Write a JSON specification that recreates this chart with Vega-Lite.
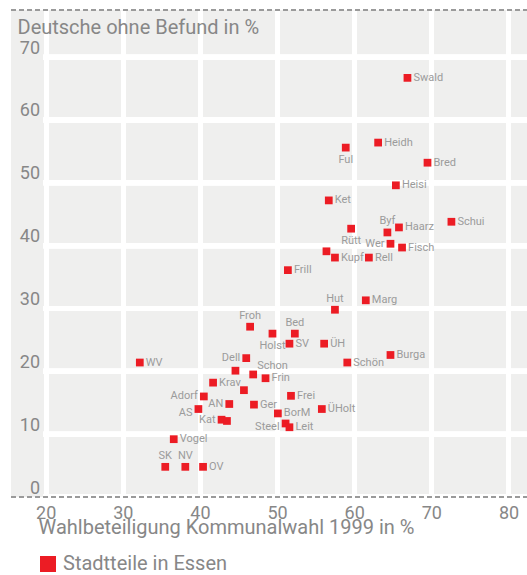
{
  "$schema": "https://vega.github.io/schema/vega-lite/v6.json",
  "width": 516,
  "height": 487,
  "autosize": "none",
  "padding": {"left": 11, "top": 10, "right": 0, "bottom": 78},
  "background": "white",
  "config": {
    "view": {"stroke": null, "fill": "#efefee"},
    "font": "Roboto",
    "axis": {
      "gridColor": "white",
      "gridWidth": 5,
      "gridOpacity": 1,
      "ticks": false,
      "tickSize": 0,
      "labelFont": "Roboto",
      "labelFontSize": 18,
      "labelColor": "#878787",
      "titleFont": "Roboto",
      "titleFontSize": 20,
      "titleFontWeight": "normal",
      "titleColor": "#878787"
    },
    "legend": {
      "labelFont": "Roboto",
      "labelFontSize": 20,
      "labelColor": "#878787",
      "labelLimit": 0
    }
  },
  "data": {
    "values": [
      {"name": "Swald", "wahl": 66.9, "deutsche": 66.7},
      {"name": "Ful", "wahl": 58.9, "deutsche": 55.6},
      {"name": "Heidh", "wahl": 63.1, "deutsche": 56.4},
      {"name": "Bred", "wahl": 69.5, "deutsche": 53.2},
      {"name": "Heisi", "wahl": 65.4, "deutsche": 49.6},
      {"name": "Ket", "wahl": 56.7, "deutsche": 47.2},
      {"name": "Schui", "wahl": 72.6, "deutsche": 43.8},
      {"name": "Rütt", "wahl": 59.6, "deutsche": 42.7},
      {"name": "Byf", "wahl": 64.3, "deutsche": 42.1},
      {"name": "Haarz", "wahl": 65.8, "deutsche": 42.9},
      {"name": "Wer", "wahl": 64.7, "deutsche": 40.3},
      {"name": "Fisch", "wahl": 66.2, "deutsche": 39.7},
      {"name": "", "wahl": 56.4, "deutsche": 39.1},
      {"name": "Kupf", "wahl": 57.5, "deutsche": 38.1},
      {"name": "Rell", "wahl": 61.9, "deutsche": 38.1},
      {"name": "Frill", "wahl": 51.4, "deutsche": 36.1},
      {"name": "Hut", "wahl": 57.5, "deutsche": 29.8},
      {"name": "Marg", "wahl": 61.5, "deutsche": 31.3},
      {"name": "Froh", "wahl": 46.5, "deutsche": 27.1},
      {"name": "Holst", "wahl": 49.4, "deutsche": 26.0},
      {"name": "Bed", "wahl": 52.3, "deutsche": 26.0},
      {"name": "SV", "wahl": 51.6, "deutsche": 24.4},
      {"name": "ÜH", "wahl": 56.1, "deutsche": 24.4},
      {"name": "Burga", "wahl": 64.7, "deutsche": 22.6},
      {"name": "WV", "wahl": 32.2, "deutsche": 21.4},
      {"name": "Dell", "wahl": 46.0, "deutsche": 22.1},
      {"name": "Schön", "wahl": 59.1, "deutsche": 21.4},
      {"name": "", "wahl": 44.6, "deutsche": 20.1},
      {"name": "Schon", "wahl": 46.9, "deutsche": 19.5},
      {"name": "Frin", "wahl": 48.5, "deutsche": 18.9},
      {"name": "Krav", "wahl": 41.7, "deutsche": 18.2},
      {"name": "", "wahl": 45.7, "deutsche": 17.0},
      {"name": "Adorf", "wahl": 40.5, "deutsche": 16.0},
      {"name": "Frei", "wahl": 51.8, "deutsche": 16.1},
      {"name": "AS", "wahl": 39.8, "deutsche": 14.0},
      {"name": "AN", "wahl": 43.8, "deutsche": 14.8},
      {"name": "Ger", "wahl": 47.0, "deutsche": 14.7},
      {"name": "Kat", "wahl": 42.8, "deutsche": 12.3},
      {"name": "", "wahl": 43.5, "deutsche": 12.1},
      {"name": "BorM", "wahl": 50.1, "deutsche": 13.3},
      {"name": "ÜHolt", "wahl": 55.8, "deutsche": 14.0},
      {"name": "Steel", "wahl": 51.1, "deutsche": 11.7},
      {"name": "Leit", "wahl": 51.6, "deutsche": 11.1},
      {"name": "Vogel", "wahl": 36.6, "deutsche": 9.2},
      {"name": "SK", "wahl": 35.5, "deutsche": 4.8},
      {"name": "NV", "wahl": 38.1, "deutsche": 4.8},
      {"name": "OV", "wahl": 40.4, "deutsche": 4.8}
    ]
  },
  "encoding": {
    "x": {
      "field": "wahl",
      "type": "quantitative",
      "scale": {"domain": [15.5, 82.4], "nice": false, "zero": false},
      "axis": {
        "values": [20, 30, 40, 50, 60, 70, 80],
        "grid": true,
        "title": "Wahlbeteiligung Kommunalwahl 1999 in %",
        "titleAnchor": "start",
        "titleAlign": "left",
        "titleX": 27,
        "titleY": 36,
        "titleBaseline": "alphabetic",
        "labelBaseline": "alphabetic",
        "labelPadding": 21,
        "domain": false
      }
    },
    "y": {
      "field": "deutsche",
      "type": "quantitative",
      "scale": {"domain": [0, 77.5], "nice": false},
      "axis": {
        "values": [0, 10, 20, 30, 40, 50, 60, 70],
        "grid": false,
        "zindex": 1,
        "title": "Deutsche ohne Befund in %",
        "titleAngle": 0,
        "titleAlign": "left",
        "titleAnchor": "start",
        "titleBaseline": "alphabetic",
        "titleX": 6,
        "titleY": 23,
        "labelAlign": "right",
        "labelBaseline": "alphabetic",
        "labelPadding": -28.5,
        "labelOffset": -4,
        "domain": false
      }
    }
  },
  "layer": [
    {"mark": {"type": "rule", "stroke": "white", "strokeWidth": 5}, "encoding": {"x": {"datum": 19.68}, "x2": {"datum": 82.4}, "y": {"datum": 0}}},
    {"mark": {"type": "rule", "stroke": "white", "strokeWidth": 5}, "encoding": {"x": {"datum": 19.68}, "x2": {"datum": 82.4}, "y": {"datum": 10}}},
    {"mark": {"type": "rule", "stroke": "white", "strokeWidth": 5}, "encoding": {"x": {"datum": 19.68}, "x2": {"datum": 82.4}, "y": {"datum": 20}}},
    {"mark": {"type": "rule", "stroke": "white", "strokeWidth": 5}, "encoding": {"x": {"datum": 19.68}, "x2": {"datum": 82.4}, "y": {"datum": 30}}},
    {"mark": {"type": "rule", "stroke": "white", "strokeWidth": 5}, "encoding": {"x": {"datum": 19.68}, "x2": {"datum": 82.4}, "y": {"datum": 40}}},
    {"mark": {"type": "rule", "stroke": "white", "strokeWidth": 5}, "encoding": {"x": {"datum": 19.68}, "x2": {"datum": 82.4}, "y": {"datum": 50}}},
    {"mark": {"type": "rule", "stroke": "white", "strokeWidth": 5}, "encoding": {"x": {"datum": 19.68}, "x2": {"datum": 82.4}, "y": {"datum": 60}}},
    {"mark": {"type": "rule", "stroke": "white", "strokeWidth": 5}, "encoding": {"x": {"datum": 19.68}, "x2": {"datum": 82.4}, "y": {"datum": 70}}},
    {
      "mark": {"type": "point", "shape": "square", "filled": true, "opacity": 1, "size": 60},
      "encoding": {
        "color": {
          "datum": "Stadtteile in Essen",
          "scale": {"range": ["#ec1c24"]},
          "legend": {
            "title": null,
            "orient": "none",
            "legendX": 27,
            "legendY": 544,
            "padding": 0,
            "symbolType": "square",
            "symbolSize": 256,
            "symbolStrokeWidth": 0,
            "symbolOpacity": 1,
            "labelOffset": 5,
            "labelLimit": 0
          }
        }
      }
    },
    {
      "transform": [{"filter": {"field": "name", "oneOf": ["Swald", "Heidh", "Bred", "Heisi", "Ket", "Schui", "Haarz", "Fisch", "Kupf", "Rell", "Frill", "Marg", "SV", "ÜH", "Burga", "WV", "Schön", "Frin", "Krav", "Frei", "Ger", "BorM", "ÜHolt", "Leit", "Vogel", "OV"]}}],
      "mark": {"type": "text", "align": "left", "baseline": "middle", "dx": 6, "fontSize": 11, "color": "#9b9b9b"},
      "encoding": {"text": {"field": "name"}}
    },
    {
      "transform": [{"filter": {"field": "name", "oneOf": ["Wer", "Dell", "Adorf", "AN", "Kat"]}}],
      "mark": {"type": "text", "align": "right", "baseline": "middle", "dx": -6, "fontSize": 11, "color": "#9b9b9b"},
      "encoding": {"text": {"field": "name"}}
    },
    {
      "transform": [{"filter": {"field": "name", "oneOf": ["AS", "Steel"]}}],
      "mark": {"type": "text", "align": "right", "baseline": "middle", "dx": -6, "dy": 4, "fontSize": 11, "color": "#9b9b9b"},
      "encoding": {"text": {"field": "name"}}
    },
    {
      "transform": [{"filter": {"field": "name", "oneOf": ["Hut", "Froh", "Bed", "SK", "NV", "Byf"]}}],
      "mark": {"type": "text", "align": "center", "baseline": "middle", "dy": -11, "fontSize": 11, "color": "#9b9b9b"},
      "encoding": {"text": {"field": "name"}}
    },
    {
      "transform": [{"filter": {"field": "name", "oneOf": ["Schon"]}}],
      "mark": {"type": "text", "align": "left", "baseline": "middle", "dx": 4, "dy": -8, "fontSize": 11, "color": "#9b9b9b"},
      "encoding": {"text": {"field": "name"}}
    },
    {
      "transform": [{"filter": {"field": "name", "oneOf": ["Ful", "Rütt", "Holst"]}}],
      "mark": {"type": "text", "align": "center", "baseline": "middle", "dy": 12, "fontSize": 11, "color": "#9b9b9b"},
      "encoding": {"text": {"field": "name"}}
    },
    {
      "mark": {"type": "rule", "color": "#9a9a9a", "strokeWidth": 1.5, "strokeDash": [5, 3]},
      "encoding": {
        "x": {"datum": 15.5},
        "x2": {"datum": 82.4},
        "y": {"datum": 77.5}
      }
    },
    {
      "mark": {"type": "rule", "color": "#9a9a9a", "strokeWidth": 1.5, "strokeDash": [5, 3]},
      "encoding": {
        "x": {"datum": 15.5},
        "x2": {"datum": 82.4},
        "y": {"datum": 0}
      }
    }
  ]
}
